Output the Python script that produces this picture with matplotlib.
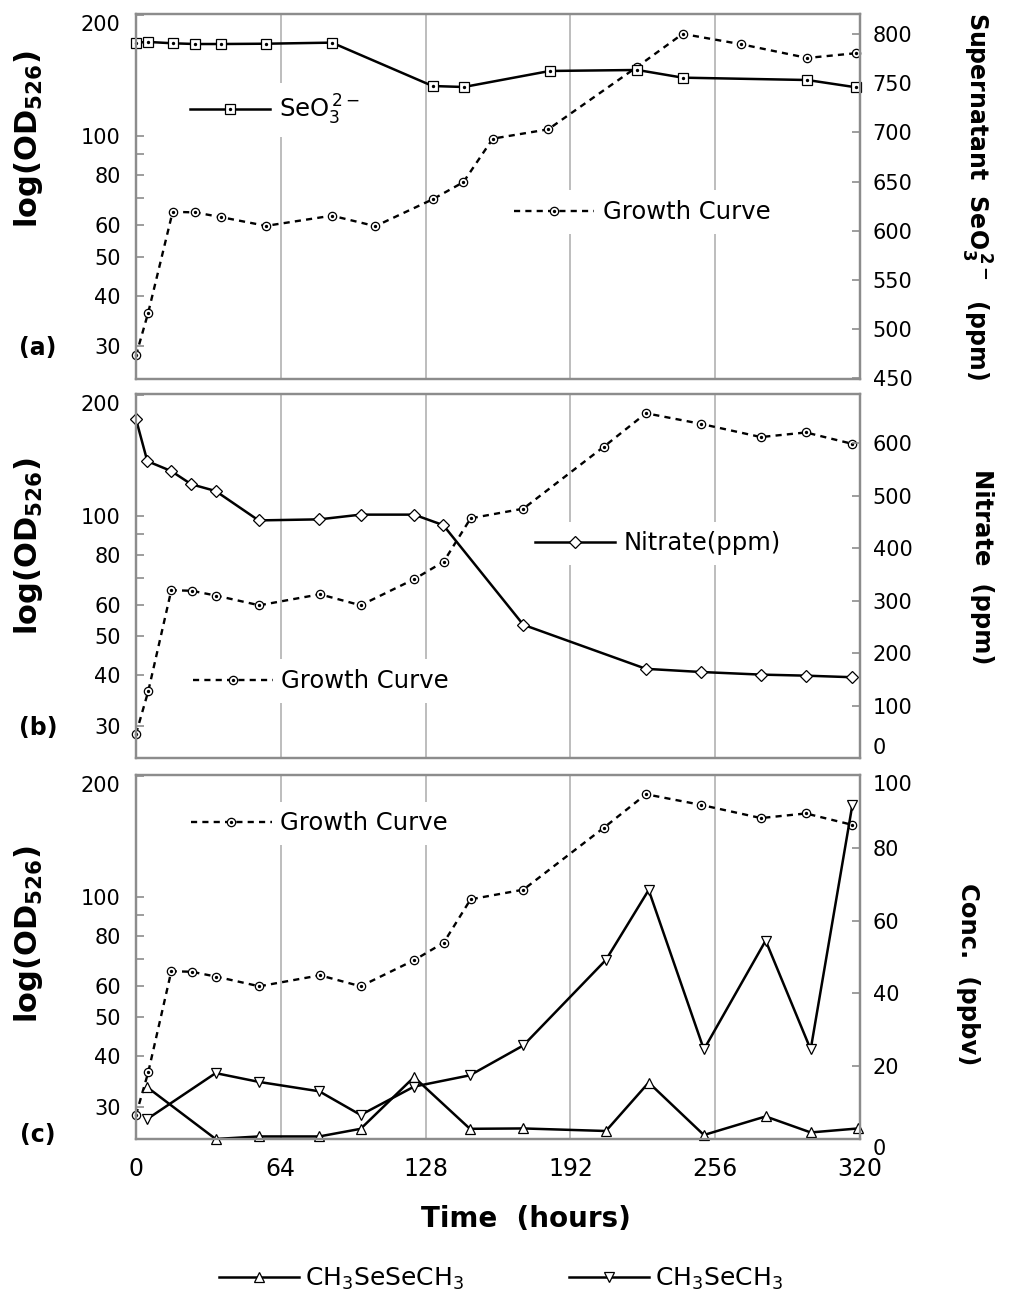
import matplotlib
matplotlib.use("Agg")
from matplotlib import pyplot as plt
from matplotlib.ticker import FixedLocator, NullFormatter

# growth curve, panel (a) (time in hours, OD on log axis)
t_growth_a = [0, 5.4, 16.2, 26.1, 37.4, 57.5, 86.6, 105.8, 131.1, 144.7, 157.7,
              182.2, 221.6, 241.6, 267.4, 296.7, 318.2]
od_growth_a = [28.5, 36.4, 64.8, 64.6, 62.9, 59.8, 63.4, 59.7, 69.6, 76.8, 98.5,
               103.9, 148.7, 179.4, 169.1, 156.3, 160.6]

# supernatant selenite, panel (a)
t_seo3 = [0, 5.4, 16.5, 26.1, 37.4, 57.5, 86.6, 131.1, 144.9, 182.9, 221.6, 241.6, 296.7, 318.2]
seo3_ppm = [791.2, 791.9, 790.5, 789.8, 789.8, 790.1, 791.2, 747.1, 746.1, 762.4, 763.4,
            755.6, 753.2, 745.8]

# growth curve, panels (b) and (c)
t_growth = [0, 5.4, 15.6, 24.6, 35.5, 54.5, 81.3, 99.3, 123.0, 136.0, 147.9, 171.2,
            206.9, 225.4, 249.6, 276.2, 296.1, 316.6]
od_growth = [28.6, 36.5, 65.2, 65.0, 63.2, 59.8, 63.7, 59.8, 69.5, 76.8, 98.5, 104.1,
             148.7, 180.0, 169.4, 157.0, 161.2, 151.0]

# nitrate, panel (b)
t_nitrate = [0, 5.0, 15.6, 24.4, 35.2, 54.2, 81.0, 99.3, 122.9, 135.8, 171.2, 225.4,
             249.6, 276.2, 296.1, 316.6]
nitrate_ppm = [646, 566, 547, 522, 509, 453, 455, 464, 464, 444, 254, 170, 164, 159, 157, 154]

# headspace gases, panel (c)
t_dmdse = [5.0, 35.2, 54.2, 81.0, 99.3, 122.9, 147.6, 171.2, 207.7, 226.6, 251.0, 278.3, 298.2, 319.2]
dmdse_ppbv = [14.2, 0.0, 0.7, 0.7, 2.8, 17.0, 2.8, 2.9, 2.2, 15.5, 1.1, 6.2, 1.8, 2.9]
t_dms = [5.0, 35.2, 54.2, 81.0, 99.3, 122.9, 147.6, 171.2, 207.7, 226.6, 251.0, 278.3, 298.2, 316.6]
dms_ppbv = [5.5, 18.1, 15.7, 13.1, 6.6, 14.4, 17.5, 25.7, 49.2, 68.4, 24.6, 54.5, 24.6, 91.7]

x_ticks = [0, 64, 128, 192, 256, 320]
od_ticks = [30, 40, 50, 60, 80, 100, 200]
od_minor = [70, 90]
seo3_ticks = list(range(450, 801, 50))
nitrate_ticks = list(range(0, 601, 100))
conc_ticks = list(range(0, 101, 20))

plt.rcParams["font.family"] = ["DejaVu Sans"]
plt.rcParams["mathtext.fontset"] = "dejavusans"
plt.rcParams["mathtext.default"] = "regular"

W, H = 1011, 1304
fig = plt.figure(figsize=(W / 100, H / 100), dpi=100)

SPINE = "#8c8c8c"
GROWTH_KW = dict(color="black", lw=1.7, ls=(0, (2.6, 2.2)), marker="o", ms=6, mfc="white",
                 mec="black", mew=0.9, clip_on=False)
SOLID_KW = dict(color="black", lw=1.8, mfc="white", mec="black", mew=0.9, clip_on=False)
DOT_KW = dict(ls="none", marker="o", ms=1.4, color="black", clip_on=False)
LEG_KW = dict(loc="center left", borderaxespad=0, fontsize=17.5, handlelength=3.3,
              handletextpad=0.35, frameon=True, fancybox=False, edgecolor="none",
              facecolor="white", framealpha=1)


def make_panel(top, bottom, right_ticks, right_lim, show_x):
    ax = fig.add_axes([136 / W, 1 - bottom / H, 724 / W, (bottom - top) / H])
    ax2 = ax.twinx()
    ax.set_yscale("log")
    ax.set_ylim(24.9, 201)
    ax.set_xlim(0, 320)
    ax.yaxis.set_major_locator(FixedLocator(od_ticks))
    ax.set_yticklabels([str(v) for v in od_ticks])
    ax.yaxis.set_minor_locator(FixedLocator(od_minor))
    ax.yaxis.set_minor_formatter(NullFormatter())
    ax.set_xticks(x_ticks)
    ax.grid(axis="x", color="#b8b8b8", lw=1.3)
    ax.tick_params(axis="y", which="both", direction="in", length=6, width=1.2,
                   color=SPINE, labelsize=15, pad=11)
    ax.tick_params(axis="x", length=0, labelsize=17, pad=13, labelbottom=show_x)
    # the top label sits just inside the frame, as in the original
    ax.yaxis.get_major_ticks()[-1].label1.set_verticalalignment("top")
    ax2.set_ylim(*right_lim)
    ax2.set_yticks(right_ticks)
    ax2.tick_params(axis="y", direction="in", length=6, width=1.2, color=SPINE,
                    labelsize=15, pad=9)
    for a in (ax, ax2):
        for s in a.spines.values():
            s.set_color(SPINE)
            s.set_linewidth(1.6)
    return ax, ax2


def growth(ax, t, od):
    line, = ax.plot(t, od, **GROWTH_KW)
    dot, = ax.plot(t, od, **DOT_KW)
    return (line, dot)


def left_label(ax, y):
    ax.set_ylabel(r"log(OD$_\mathbf{526}$)", fontsize=22, fontweight="bold")
    ax.yaxis.set_label_coords(-0.126, y)


# ---- (a) ----
ax_a, ax_a2 = make_panel(14, 379, seo3_ticks, (449.3, 820.3), False)
g_a = growth(ax_a, t_growth_a, od_growth_a)
se_line, = ax_a2.plot(t_seo3, seo3_ppm, marker="s", ms=6.5, **SOLID_KW)
se_dot, = ax_a2.plot(t_seo3, seo3_ppm, **DOT_KW)
leg = ax_a2.legend(handles=[(se_line, se_dot)], labels=[r"SeO$_3^{\,2-}$"],
                   bbox_to_anchor=(0.061, 0.737), **LEG_KW)
ax_a2.add_artist(leg)
ax_a2.legend(handles=[g_a], labels=["Growth Curve"], bbox_to_anchor=(0.509, 0.4575), **LEG_KW)
left_label(ax_a, 0.658)

# ---- (b) ----
ax_b, ax_b2 = make_panel(394, 758, nitrate_ticks, (0, 694), False)
ax_b2.yaxis.get_major_ticks()[0].label2.set_verticalalignment("bottom")
g_b = growth(ax_b, t_growth, od_growth)
no3_line, = ax_b2.plot(t_nitrate, nitrate_ppm, marker="D", ms=6, **SOLID_KW)
leg = ax_b2.legend(handles=[g_b], labels=["Growth Curve"], bbox_to_anchor=(0.065, 0.2115), **LEG_KW)
ax_b2.add_artist(leg)
ax_b2.legend(handles=[no3_line], labels=["Nitrate(ppm)"], bbox_to_anchor=(0.538, 0.59), **LEG_KW)
left_label(ax_b, 0.581)

# ---- (c) ----
ax_c, ax_c2 = make_panel(775, 1139, conc_ticks, (0, 99.7), True)
ax_c2.yaxis.get_major_ticks()[-1].label2.set_verticalalignment("top")
ax_c2.yaxis.get_major_ticks()[0].label2.set_verticalalignment("top")
g_c = growth(ax_c, t_growth, od_growth)
dmdse_line, = ax_c2.plot(t_dmdse, dmdse_ppbv, marker="^", ms=7.5, **SOLID_KW)
dms_line, = ax_c2.plot(t_dms, dms_ppbv, marker="v", ms=7.5, **SOLID_KW)
ax_c2.legend(handles=[g_c], labels=["Growth Curve"], bbox_to_anchor=(0.063, 0.867), **LEG_KW)
left_label(ax_c, 0.563)
ax_c.set_xlabel("Time  (hours)", fontsize=20, fontweight="bold")
ax_c.xaxis.set_label_coords(0.539, -0.18)

# right-hand axis titles and panel letters
fig.text(976 / W, 1 - 196 / H, r"Supernatant  SeO$_\mathbf{3}^{\,\mathbf{2-}}$  (ppm)",
         rotation=270, ha="center", va="center", fontsize=17, fontweight="bold")
fig.text(982 / W, 1 - 567 / H, "Nitrate  (ppm)", rotation=270, ha="center", va="center",
         fontsize=17.5, fontweight="bold")
fig.text(968 / W, 1 - 974 / H, "Conc.  (ppbv)", rotation=270, ha="center", va="center",
         fontsize=17.5, fontweight="bold")
for letter, y in (("(a)", 348), ("(b)", 728), ("(c)", 1135)):
    fig.text(38 / W, 1 - y / H, letter, ha="center", va="center", fontsize=17, fontweight="bold")

fig.legend(handles=[dmdse_line, dms_line],
           labels=[r"CH$_3$SeSeCH$_3$", r"CH$_3$SeCH$_3$"],
           loc="center left", bbox_to_anchor=(196 / W, 1 - 1279 / H), ncol=2, frameon=False,
           fontsize=18, handlelength=3.2, handletextpad=0.25, columnspacing=4.2)

fig.savefig("out.png", dpi=100)
